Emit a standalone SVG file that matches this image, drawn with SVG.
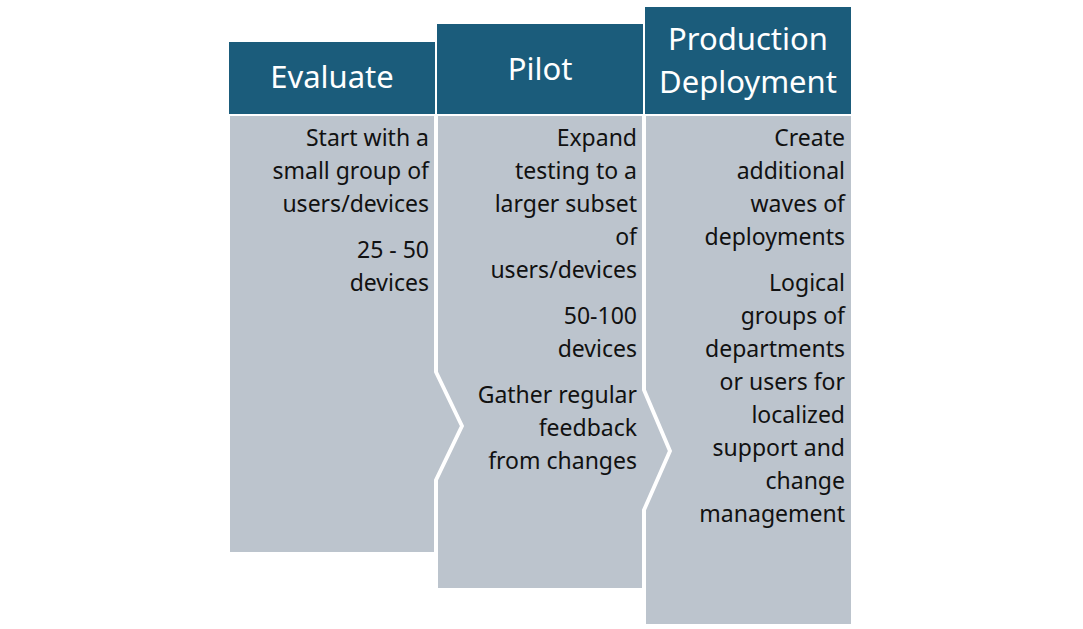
<svg xmlns="http://www.w3.org/2000/svg" width="1083" height="629" viewBox="0 0 1083 629">
<style>
.h{fill:#1b5c7b}
.b{fill:#bcc4cd;stroke:#fff;stroke-width:2}
.ht{font-family:"Noto Sans",sans-serif;font-size:31px;fill:#fff;text-anchor:middle}
.t{font-family:"Noto Sans",sans-serif;font-size:23px;fill:#111;text-anchor:end}
</style>
<rect width="1083" height="629" fill="#fff"/>
<g id="evaluate">
<rect class="h" x="229" y="42" width="206" height="73"/>
<text class="ht" x="332" y="88">Evaluate</text>
<polygon class="b" points="229,115 435,115 435,372 461,426 435,480 435,553 229,553"/>
<text class="t" x="429"><tspan x="429" y="146">Start with a</tspan><tspan x="429" y="179">small group of</tspan><tspan x="429" y="212">users/devices</tspan><tspan x="429" y="258">25 - 50</tspan><tspan x="429" y="291">devices</tspan></text>
</g>
<g id="pilot">
<rect class="h" x="437" y="24" width="206" height="91"/>
<text class="ht" x="540" y="80">Pilot</text>
<polygon class="b" points="437,115 643,115 643,390 669,451 643,510 643,589 437,589 437,480 463,426 437,372"/>
<text class="t"><tspan x="637" y="146">Expand</tspan><tspan x="637" y="179">testing to a</tspan><tspan x="637" y="212">larger subset</tspan><tspan x="637" y="245">of</tspan><tspan x="637" y="278">users/devices</tspan><tspan x="637" y="324">50-100</tspan><tspan x="637" y="357">devices</tspan><tspan x="637" y="403">Gather regular</tspan><tspan x="637" y="436">feedback</tspan><tspan x="637" y="469">from changes</tspan></text>
</g>
<g id="production">
<rect class="h" x="645" y="7" width="206" height="108"/>
<text class="ht" x="748" y="50">Production</text>
<text class="ht" x="748" y="93">Deployment</text>
<polygon class="b" points="645,115 852,115 852,625 645,625 645,510 671,451 645,390"/>
<text class="t"><tspan x="845" y="146">Create</tspan><tspan x="845" y="179">additional</tspan><tspan x="845" y="212">waves of</tspan><tspan x="845" y="245">deployments</tspan><tspan x="845" y="291">Logical</tspan><tspan x="845" y="324">groups of</tspan><tspan x="845" y="357">departments</tspan><tspan x="845" y="390">or users for</tspan><tspan x="845" y="423">localized</tspan><tspan x="845" y="456">support and</tspan><tspan x="845" y="489">change</tspan><tspan x="845" y="522">management</tspan></text>
</g>
<g id="connectors"/>
</svg>
